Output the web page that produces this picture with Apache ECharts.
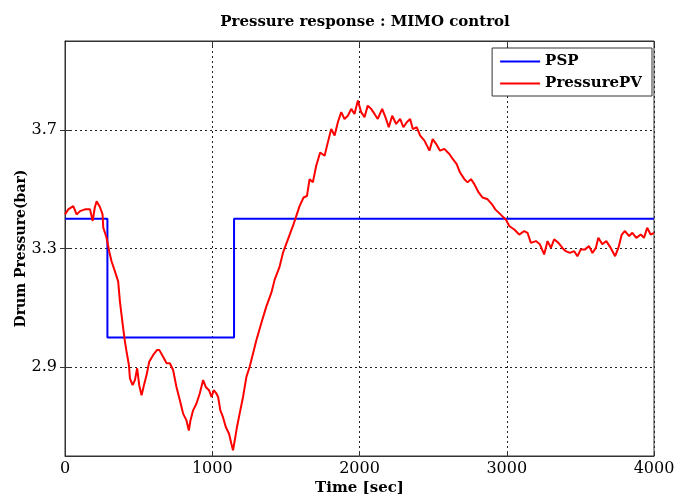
<!DOCTYPE html>
<html>
<head>
<meta charset="utf-8">
<script src="https://cdn.jsdelivr.net/npm/echarts@6/dist/echarts.min.js"></script>
<style>html,body{margin:0;padding:0;background:#fff}#c{width:677px;height:496px}</style>
</head>
<body>
<div id="c"></div>
<script>
var titleText = 'Pressure response : MIMO control';
var xName = 'Time [sec]';
var yName = 'Drum Pressure(bar)';
var xTicks = [0, 1000, 2000, 3000, 4000];
var yTicks = [2.9, 3.3, 3.7];

// set point (step changes)
var pspTime  = [0, 288, 288, 1148, 1148, 4000];
var pspValue = [3.4, 3.4, 3.0, 3.0, 3.4, 3.4];

// measured drum pressure
var pvTime = [0,22,56,79,102,136,170,188,203,215,237,255,260,282,300,316,339,361,373,384,395,407,418,434,441,459,475,490,504,520,536,554,572,599,626,640,666,690,712,734,757,780,802,825,841,852,870,893,915,938,956,978,995,1010,1028,1040,1055,1073,1092,1114,1130,1141,1153,1168,1186,1209,1232,1254,1277,1300,1333,1367,1401,1424,1458,1480,1514,1548,1571,1593,1620,1643,1661,1683,1706,1733,1763,1785,1808,1831,1853,1876,1898,1921,1944,1966,1989,2011,2034,2056,2079,2102,2124,2154,2176,2199,2222,2249,2276,2298,2321,2344,2362,2389,2412,2441,2475,2497,2520,2547,2576,2610,2633,2660,2682,2712,2734,2757,2780,2809,2836,2870,2900,2922,2945,2968,2994,3017,3051,3085,3119,3141,3164,3198,3225,3254,3277,3300,3322,3351,3378,3401,3428,3458,3480,3503,3532,3559,3582,3605,3622,3649,3676,3706,3736,3758,3781,3803,3831,3853,3880,3910,3932,3954,3977,4000];
var pvValue = [3.415,3.432,3.443,3.415,3.426,3.432,3.432,3.393,3.44,3.459,3.44,3.415,3.37,3.337,3.291,3.257,3.223,3.189,3.121,3.076,3.031,2.986,2.952,2.907,2.862,2.839,2.856,2.896,2.839,2.805,2.839,2.873,2.918,2.941,2.958,2.958,2.935,2.913,2.913,2.89,2.833,2.788,2.743,2.72,2.686,2.72,2.754,2.777,2.811,2.856,2.833,2.822,2.799,2.822,2.811,2.799,2.754,2.731,2.698,2.675,2.641,2.619,2.653,2.698,2.743,2.799,2.867,2.901,2.946,2.991,3.048,3.104,3.15,3.195,3.24,3.285,3.331,3.376,3.41,3.443,3.472,3.477,3.534,3.523,3.579,3.624,3.613,3.658,3.703,3.681,3.726,3.76,3.737,3.748,3.771,3.754,3.799,3.76,3.743,3.782,3.771,3.754,3.737,3.771,3.743,3.709,3.748,3.72,3.737,3.709,3.726,3.737,3.703,3.709,3.681,3.664,3.63,3.669,3.653,3.63,3.636,3.619,3.602,3.585,3.557,3.534,3.523,3.534,3.517,3.489,3.472,3.466,3.449,3.432,3.421,3.41,3.398,3.376,3.364,3.347,3.359,3.353,3.319,3.325,3.314,3.28,3.325,3.302,3.331,3.319,3.302,3.291,3.285,3.291,3.274,3.297,3.297,3.308,3.285,3.302,3.336,3.314,3.325,3.302,3.274,3.302,3.347,3.359,3.342,3.353,3.336,3.347,3.336,3.37,3.347,3.353];

function zip(a, b) { return a.map(function (v, i) { return [v, b[i]]; }); }

var serif = '"DejaVu Serif", "Liberation Serif", serif';
var gridLine = { show: true, lineStyle: { color: '#222', type: [2, 3], width: 1 } };

var chart = echarts.init(document.getElementById('c'), null, { renderer: 'canvas' });
chart.setOption({
  animation: false,
  backgroundColor: '#fff',
  title: {
    text: titleText, left: 360, top: 10, textAlign: 'center',
    textStyle: { fontFamily: serif, fontSize: 15, fontWeight: 'bold', color: '#000' }
  },
  grid: { left: 65, right: 23, top: 41, bottom: 40, outerBoundsMode: 'none', containLabel: false,
    show: true, borderColor: '#333', borderWidth: 1, backgroundColor: '#fff' },
  legend: {
    orient: 'vertical', right: 25, top: 48,
    itemWidth: 40, itemHeight: 2, itemGap: 7, icon: 'rect',
    backgroundColor: '#fff', borderColor: '#333', borderWidth: 1, padding: [6, 10, 5, 8], borderRadius: 0,
    textStyle: { fontFamily: serif, fontSize: 15, fontWeight: 'bold', color: '#000', padding: [0, 0, 0, 0] },
    data: ['PSP', 'PressurePV']
  },
  xAxis: [{
    type: 'value', min: 0, max: 4000, interval: 1000,
    name: xName, nameLocation: 'middle', nameGap: 25, nameMoveOverlap: false,
    nameTextStyle: { fontFamily: serif, fontSize: 15, fontWeight: 'bold', color: '#000' },
    axisLine: { show: true, lineStyle: { color: '#333', width: 1 } },
    axisTick: { show: true, inside: true, length: 5, lineStyle: { color: '#333' } },
    axisLabel: { fontFamily: serif, fontSize: 16, color: '#000', margin: 5,
      formatter: function (v) { return String(v); } },
    splitLine: gridLine
  }, {
    type: 'value', position: 'top', min: 0, max: 4000, interval: 1000,
    axisLine: { show: true, lineStyle: { color: '#333', width: 1 } },
    axisTick: { show: true, inside: true, length: 5, lineStyle: { color: '#333' } },
    axisLabel: { show: false }, splitLine: { show: false }
  }],
  yAxis: [{
    type: 'value', min: 2.6, max: 4.0,
    name: yName, nameLocation: 'middle', nameGap: 37, nameMoveOverlap: false,
    nameTextStyle: { fontFamily: serif, fontSize: 14, fontWeight: 'bold', color: '#000' },
    axisLine: { show: true, lineStyle: { color: '#333', width: 1 } },
    axisTick: { show: true, inside: true, length: 5, customValues: yTicks, lineStyle: { color: '#333' } },
    axisLabel: { fontFamily: serif, fontSize: 16, color: '#000', margin: 8, customValues: yTicks,
      formatter: function (v) { return v.toFixed(1); } },
    splitLine: gridLine
  }, {
    type: 'value', position: 'right', min: 2.6, max: 4.0,
    axisLine: { show: true, lineStyle: { color: '#333', width: 1 } },
    axisTick: { show: true, inside: true, length: 5, customValues: yTicks, lineStyle: { color: '#333' } },
    axisLabel: { show: false }, splitLine: { show: false }
  }],
  series: [{
    name: 'PSP', type: 'line', data: zip(pspTime, pspValue), symbol: 'none',
    lineStyle: { color: '#0000ff', width: 2 }, itemStyle: { color: '#0000ff' }, z: 3
  }, {
    name: 'PressurePV', type: 'line', data: zip(pvTime, pvValue), symbol: 'none',
    lineStyle: { color: '#ff0000', width: 2 }, itemStyle: { color: '#ff0000' }, z: 4
  }]
});
</script>
</body>
</html>
